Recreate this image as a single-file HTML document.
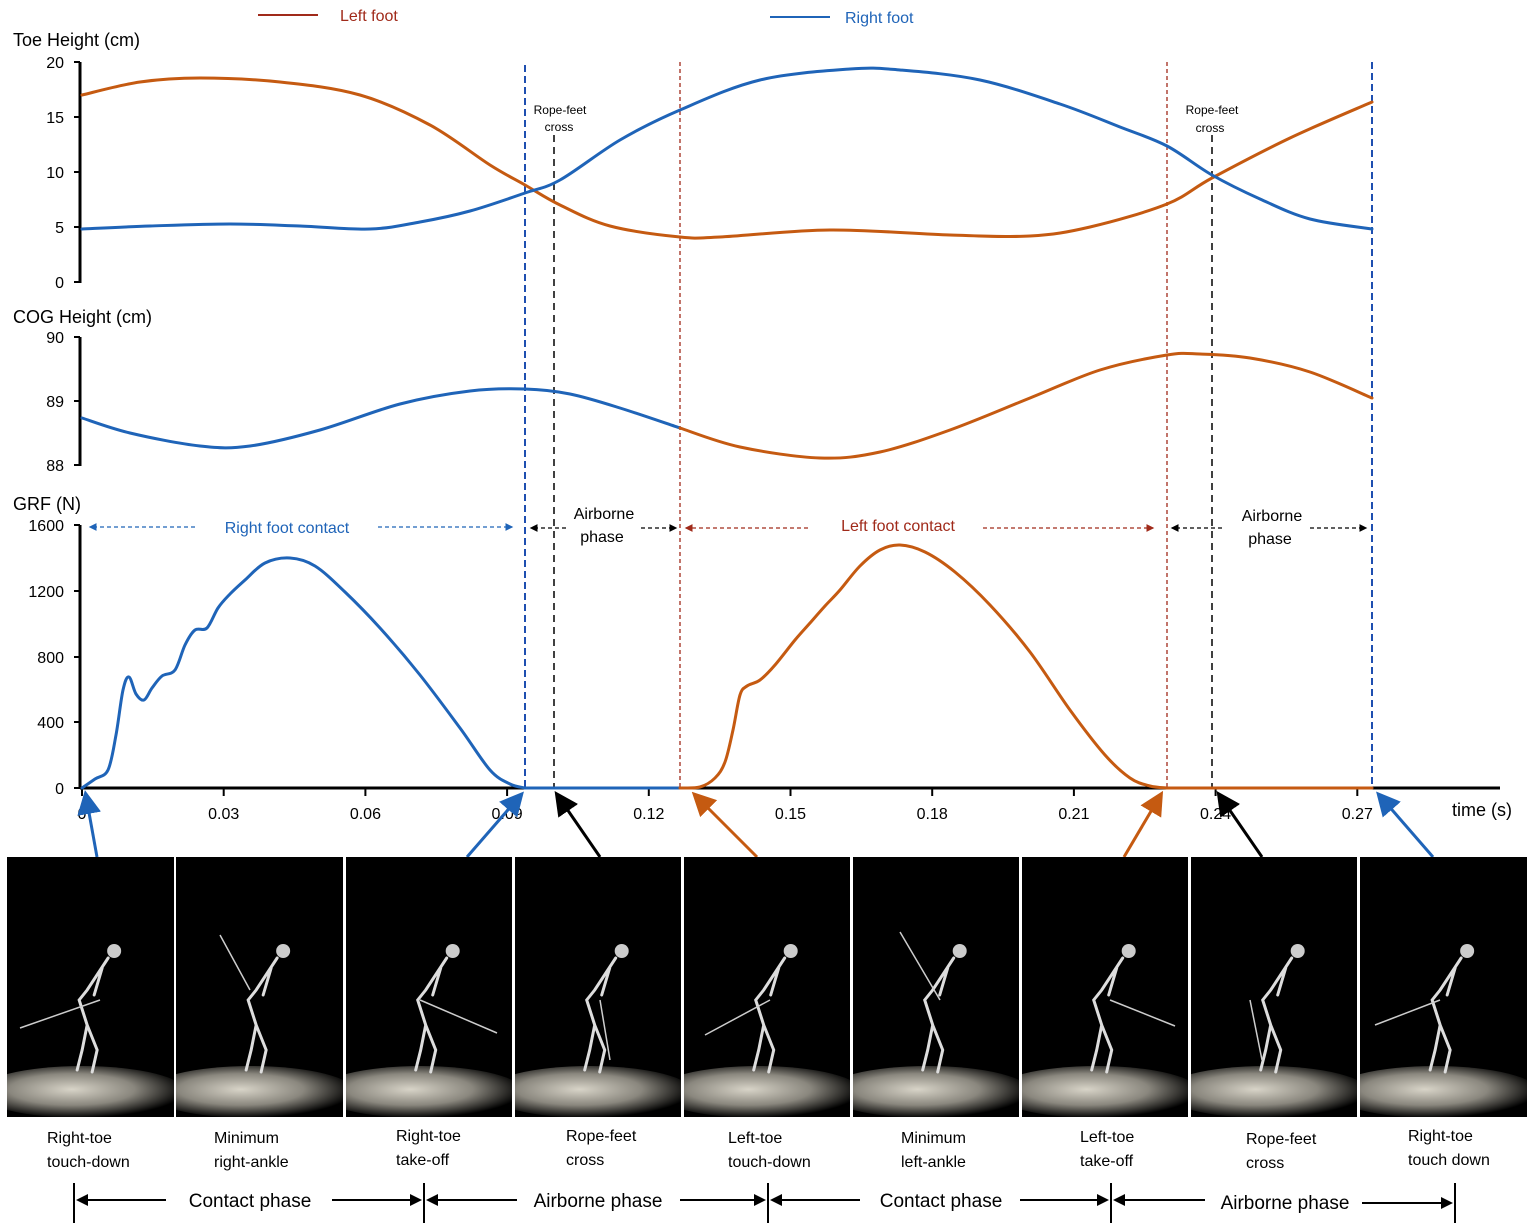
<!DOCTYPE html>
<html><head><meta charset="utf-8"><style>
html,body{margin:0;padding:0;background:#fff}
svg{display:block}
text{font-family:"Liberation Sans",sans-serif}
</style></head><body>
<svg id="s" width="1535" height="1231" viewBox="0 0 1535 1231" xmlns="http://www.w3.org/2000/svg">
<defs id="defs">
<radialGradient id="fl" cx="0.45" cy="0.45" r="0.55">
<stop offset="0" stop-color="#d8d4c8"/><stop offset="0.55" stop-color="#8a877e"/><stop offset="1" stop-color="#000"/>
</radialGradient>
<marker id="ab" markerWidth="8" markerHeight="8" refX="6" refY="4" orient="auto"><path d="M0,0 L8,4 L0,8 z" fill="#000"/></marker>
<marker id="abl" markerWidth="8" markerHeight="8" refX="6" refY="4" orient="auto"><path d="M0,0 L8,4 L0,8 z" fill="#1f64b8"/></marker>
<marker id="ao" markerWidth="8" markerHeight="8" refX="6" refY="4" orient="auto"><path d="M0,0 L8,4 L0,8 z" fill="#c55a11"/></marker>
<marker id="ar" markerWidth="6" markerHeight="6" refX="5" refY="3" orient="auto"><path d="M0,0 L6,3 L0,6 z" fill="#a02a1a"/></marker>
<marker id="abs" markerWidth="6" markerHeight="6" refX="5" refY="3" orient="auto"><path d="M0,0 L6,3 L0,6 z" fill="#000"/></marker>
<marker id="abls" markerWidth="6" markerHeight="6" refX="5" refY="3" orient="auto"><path d="M0,0 L6,3 L0,6 z" fill="#1f64b8"/></marker>
</defs>
<line x1="258" y1="15" x2="318" y2="15" stroke="#a02a1a" stroke-width="2"/>
<text x="340" y="21" font-size="16" fill="#a02a1a">Left foot</text>
<line x1="770" y1="17" x2="830" y2="17" stroke="#1f64b8" stroke-width="2"/>
<text x="845" y="23" font-size="16" fill="#1f64b8">Right foot</text>

<text x="13" y="46" font-size="18">Toe  Height (cm)</text>
<text x="13" y="323" font-size="18">COG  Height (cm)</text>
<text x="13" y="510" font-size="18">GRF (N)</text>

<g stroke="#000" stroke-width="3" fill="none">
<line x1="80" y1="62" x2="80" y2="283"/>
<line x1="80" y1="337" x2="80" y2="466"/>
<line x1="80" y1="525" x2="80" y2="789"/>
<line x1="80" y1="788" x2="1500" y2="788"/>
</g>
<g stroke="#000" stroke-width="2" id="ticks"></g>
<g font-size="16" text-anchor="end" id="ylab"></g>
<g font-size="16" text-anchor="middle" id="xlab"></g>
<text x="1452" y="816" font-size="18">time (s)</text>

<line x1="525" y1="65" x2="525" y2="788" stroke="#1f4fb0" stroke-width="2" stroke-dasharray="7,4"/>
<line x1="1372" y1="62" x2="1372" y2="788" stroke="#1f4fb0" stroke-width="2" stroke-dasharray="7,4"/>
<line x1="680" y1="62" x2="680" y2="788" stroke="#a02a1a" stroke-width="1.3" stroke-dasharray="4,3"/>
<line x1="1167" y1="62" x2="1167" y2="788" stroke="#a02a1a" stroke-width="1.3" stroke-dasharray="4,3"/>
<line x1="554" y1="135" x2="554" y2="788" stroke="#000" stroke-width="1.5" stroke-dasharray="7,5"/>
<line x1="1212" y1="135" x2="1212" y2="788" stroke="#000" stroke-width="1.5" stroke-dasharray="7,5"/>
<text x="560" y="114" font-size="12" text-anchor="middle">Rope-feet</text>
<text x="559" y="131" font-size="12" text-anchor="middle">cross</text>
<text x="1212" y="114" font-size="12" text-anchor="middle">Rope-feet</text>
<text x="1210" y="132" font-size="12" text-anchor="middle">cross</text>

<g id="curves" fill="none" stroke-width="3" stroke-linejoin="round" stroke-linecap="round"></g>

<g stroke-width="1.3" stroke-dasharray="4,3" fill="none">
<line x1="195" y1="527" x2="90" y2="527" stroke="#1f64b8" marker-end="url(#abls)"/>
<line x1="378" y1="527" x2="512" y2="527" stroke="#1f64b8" marker-end="url(#abls)"/>
<line x1="566" y1="528" x2="531" y2="528" stroke="#000" marker-end="url(#abs)"/>
<line x1="641" y1="528" x2="676" y2="528" stroke="#000" marker-end="url(#abs)"/>
<line x1="808" y1="528" x2="686" y2="528" stroke="#a02a1a" marker-end="url(#ar)"/>
<line x1="983" y1="528" x2="1153" y2="528" stroke="#a02a1a" marker-end="url(#ar)"/>
<line x1="1222" y1="528" x2="1172" y2="528" stroke="#000" marker-end="url(#abs)"/>
<line x1="1310" y1="528" x2="1366" y2="528" stroke="#000" marker-end="url(#abs)"/>
</g>
<text x="287" y="533" font-size="16" fill="#1f64b8" text-anchor="middle">Right foot contact</text>
<text x="604" y="519" font-size="16" text-anchor="middle">Airborne</text>
<text x="602" y="542" font-size="16" text-anchor="middle">phase</text>
<text x="898" y="531" font-size="16" fill="#a02a1a" text-anchor="middle">Left foot contact</text>
<text x="1272" y="521" font-size="16" text-anchor="middle">Airborne</text>
<text x="1270" y="544" font-size="16" text-anchor="middle">phase</text>

<g stroke-width="3" fill="none">
<line x1="97" y1="857" x2="86" y2="796" stroke="#1f64b8" marker-end="url(#abl)"/>
<line x1="467" y1="857" x2="520" y2="796" stroke="#1f64b8" marker-end="url(#abl)"/>
<line x1="600" y1="857" x2="558" y2="796" stroke="#000" marker-end="url(#ab)"/>
<line x1="757" y1="857" x2="696" y2="796" stroke="#c55a11" marker-end="url(#ao)"/>
<line x1="1124" y1="857" x2="1160" y2="796" stroke="#c55a11" marker-end="url(#ao)"/>
<line x1="1262" y1="857" x2="1220" y2="796" stroke="#000" marker-end="url(#ab)"/>
<line x1="1433" y1="857" x2="1380" y2="796" stroke="#1f64b8" marker-end="url(#abl)"/>
</g>

<g id="panels"></g>

<g font-size="16" text-anchor="start">
<text x="47" y="1143">Right-toe</text><text x="47" y="1167">touch-down</text>
<text x="214" y="1143">Minimum</text><text x="214" y="1167">right-ankle</text>
<text x="396" y="1141">Right-toe</text><text x="396" y="1165">take-off</text>
<text x="566" y="1141">Rope-feet</text><text x="566" y="1165">cross</text>
<text x="728" y="1143">Left-toe</text><text x="728" y="1167">touch-down</text>
<text x="901" y="1143">Minimum</text><text x="901" y="1167">left-ankle</text>
<text x="1080" y="1142">Left-toe</text><text x="1080" y="1166">take-off</text>
<text x="1246" y="1144">Rope-feet</text><text x="1246" y="1168">cross</text>
<text x="1408" y="1141">Right-toe</text><text x="1408" y="1165">touch down</text>
</g>

<g stroke="#000" stroke-width="2" fill="none">
<line x1="74" y1="1183" x2="74" y2="1223"/><line x1="424" y1="1183" x2="424" y2="1223"/>
<line x1="768" y1="1183" x2="768" y2="1223"/><line x1="1111" y1="1183" x2="1111" y2="1223"/>
<line x1="1455" y1="1183" x2="1455" y2="1223"/>
<line x1="166" y1="1200" x2="78" y2="1200" marker-end="url(#abs)"/>
<line x1="332" y1="1200" x2="420" y2="1200" marker-end="url(#abs)"/>
<line x1="517" y1="1200" x2="428" y2="1200" marker-end="url(#abs)"/>
<line x1="680" y1="1200" x2="764" y2="1200" marker-end="url(#abs)"/>
<line x1="860" y1="1200" x2="772" y2="1200" marker-end="url(#abs)"/>
<line x1="1020" y1="1200" x2="1107" y2="1200" marker-end="url(#abs)"/>
<line x1="1205" y1="1200" x2="1115" y2="1200" marker-end="url(#abs)"/>
<line x1="1362" y1="1203" x2="1451" y2="1203" marker-end="url(#abs)"/>
</g>
<g font-size="19" text-anchor="middle">
<text x="250" y="1207">Contact phase</text>
<text x="598" y="1207">Airborne phase</text>
<text x="941" y="1207">Contact phase</text>
<text x="1285" y="1209">Airborne phase</text>
</g>
</svg>
<script>
var NS="http://www.w3.org/2000/svg";
function el(p,tag,a){var e=document.createElementNS(NS,tag);for(var k in a)e.setAttribute(k,a[k]);p.appendChild(e);return e;}
function smooth(pts){var d="M"+pts[0][0]+","+pts[0][1];for(var i=0;i<pts.length-1;i++){var p0=pts[Math.max(i-1,0)],p1=pts[i],p2=pts[i+1],p3=pts[Math.min(i+2,pts.length-1)];var c1x=p1[0]+(p2[0]-p0[0])/6,c1y=p1[1]+(p2[1]-p0[1])/6,c2x=p2[0]-(p3[0]-p1[0])/6,c2y=p2[1]-(p3[1]-p1[1])/6;d+=" C"+c1x.toFixed(1)+","+c1y.toFixed(1)+" "+c2x.toFixed(1)+","+c2y.toFixed(1)+" "+p2[0]+","+p2[1];}return d;}
var T=document.getElementById("ticks"),YL=document.getElementById("ylab"),XL=document.getElementById("xlab");
function yt(y,l){el(T,"line",{x1:74,y1:y,x2:80,y2:y});var t=el(YL,"text",{x:64,y:y+6});t.textContent=l;}
[[62,"20"],[117,"15"],[172,"10"],[227,"5"],[282,"0"]].forEach(function(a){yt(a[0],a[1]);});
[[337,"90"],[401,"89"],[465,"88"]].forEach(function(a){yt(a[0],a[1]);});
[[525,"1600"],[591,"1200"],[657,"800"],[722,"400"],[788,"0"]].forEach(function(a){yt(a[0],a[1]);});
var xl=["0","0.03","0.06","0.09","0.12","0.15","0.18","0.21","0.24","0.27"];
for(var i=0;i<10;i++){var x=82+i*141.7;el(T,"line",{x1:x,y1:788,x2:x,y2:796});var t=el(XL,"text",{x:x,y:819});t.textContent=xl[i];}
var C=document.getElementById("curves"),O="#c55a11",B="#1f64b8";
function cv(pts,c){el(C,"path",{d:smooth(pts),stroke:c});}
cv([[82,95],[140,82],[200,78],[280,82],[360,95],[430,125],[490,165],[525,185],[560,205],[610,226],[680,237],[720,237],[830,230],[950,235],[1030,236],[1090,227],[1167,204],[1212,178],[1290,138],[1372,102]],O);
cv([[82,229],[150,226],[230,224],[300,226],[370,229],[420,222],[470,211],[525,193],[560,180],[620,140],[680,110],[760,80],[850,69],[900,70],[980,80],[1060,104],[1120,127],[1167,146],[1212,175],[1260,199],[1310,219],[1372,229]],B);
cv([[82,418],[130,433],[200,446],[250,446],[320,430],[400,404],[470,391],[525,389],[570,394],[620,408],[680,428]],B);
cv([[680,428],[740,447],[820,458],[880,452],[950,430],[1030,398],[1100,370],[1167,355],[1200,354],[1250,358],[1310,372],[1372,398]],O);
cv([[82,788],[95,779],[108,770],[116,735],[123,690],[129,677],[136,694],[144,700],[152,688],[162,676],[175,670],[185,645],[195,630],[207,628],[218,608],[230,594],[245,580],[265,563],[290,558],[315,566],[345,592],[380,628],[420,675],[460,728],[490,770],[510,784],[525,788]],B);
el(C,"line",{x1:525,y1:788,x2:680,y2:788,stroke:B});
cv([[680,788],[700,787],[715,778],[725,762],[733,730],[740,695],[747,686],[760,680],[775,665],[795,640],[810,623],[825,606],[840,590],[860,566],[880,550],[900,545],[925,552],[955,572],[990,605],[1030,652],[1070,710],[1105,755],[1130,778],[1150,786],[1167,788]],O);
el(C,"line",{x1:1167,y1:788,x2:1372,y2:788,stroke:O});
var P=document.getElementById("panels"),D=document.getElementById("defs");
var xs=[7,176,346,515,684,853,1022,1191,1360],ws=[167,167,166,166,166,166,166,166,167];
var rope=[[[20,1028],[100,1000]],[[220,935],[250,990]],[[420,1000],[497,1033]],[[600,1000],[610,1060]],[[705,1035],[770,1000]],[[900,932],[940,1000]],[[1110,1000],[1175,1026]],[[1250,1000],[1262,1060]],[[1375,1025],[1440,1000]]];
for(var k=0;k<9;k++){var x=xs[k],w=ws[k];
var cp=el(D,"clipPath",{id:"c"+k});el(cp,"rect",{x:x,y:857,width:w,height:260});
var pg=el(P,"g",{"clip-path":"url(#c"+k+")"});
el(pg,"rect",{x:x,y:857,width:w,height:260,fill:"#000"});
el(pg,"ellipse",{cx:x+w*0.45,cy:1092,rx:w*0.62,ry:26,fill:"url(#fl)"});
var cx=x+w*0.45;var g=el(pg,"g",{stroke:"#ddd","stroke-width":3,fill:"none","stroke-linecap":"round"});
el(g,"circle",{cx:cx+32,cy:951,r:7,fill:"#ccc",stroke:"none"});
el(g,"path",{d:"M"+(cx+26)+",958 L"+(cx+5)+",990 L"+(cx-3)+",1000 L"+(cx+5)+",1025 L"+(cx)+",1050 L"+(cx-5)+",1070 M"+(cx+5)+",1025 L"+(cx+15)+",1050 L"+(cx+10)+",1072 M"+(cx+20)+",968 L"+(cx+12)+",995"});
var r=rope[k];el(pg,"line",{x1:r[0][0],y1:r[0][1],x2:r[1][0],y2:r[1][1],stroke:"#ccc","stroke-width":1.5});
}
</script>
</body></html>
